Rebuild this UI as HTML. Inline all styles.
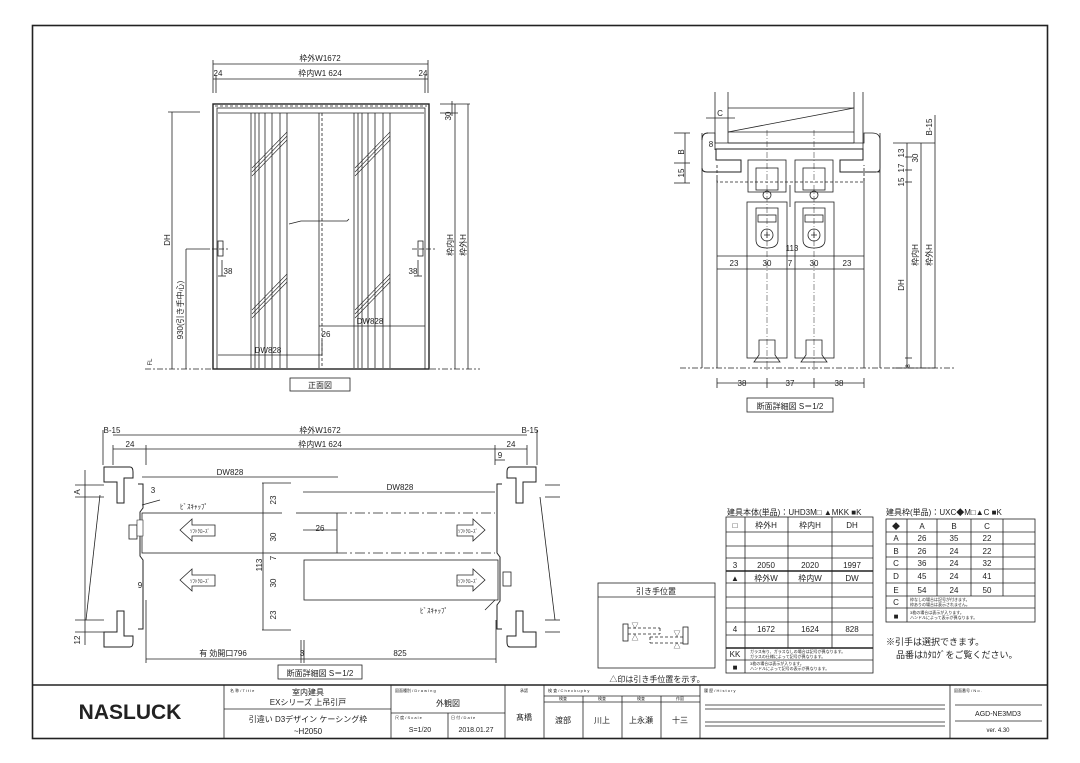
<!DOCTYPE html>
<html><head><meta charset="utf-8"><style>
html,body{margin:0;padding:0;background:#fff;}
svg{display:block;font-family:"Liberation Sans","Noto Sans CJK JP",sans-serif;}
</style></head><body>
<svg width="1080" height="763" viewBox="0 0 1080 763" xmlns="http://www.w3.org/2000/svg">
<rect x="0" y="0" width="1080" height="763" fill="#fff"/>
<g fill="none" stroke="#222" stroke-width="0.8">
<!-- outer border -->
<rect x="32.5" y="25.5" width="1015" height="713" stroke-width="1.6"/>
<line x1="32" y1="685" x2="1047" y2="685" stroke-width="1.6"/>

<!-- ===== Front elevation ===== -->
<line x1="213" y1="64" x2="428" y2="64"/>
<line x1="213" y1="79" x2="428" y2="79"/>
<line x1="213" y1="60" x2="213" y2="93"/><line x1="428" y1="60" x2="428" y2="93"/>
<line x1="216" y1="75" x2="216" y2="93"/><line x1="425" y1="75" x2="425" y2="93"/>
<rect x="213" y="104" width="216" height="265" stroke-width="1.4"/>
<rect x="217" y="108" width="208" height="261"/>
<line x1="218" y1="113" x2="424" y2="113"/>
<line x1="215" y1="106" x2="427" y2="106" stroke-dasharray="3,2"/>
<!-- left strips -->
<g>
<line x1="251" y1="113" x2="251" y2="368"/><line x1="255" y1="113" x2="255" y2="368"/>
<line x1="259" y1="113" x2="259" y2="368"/><line x1="265" y1="113" x2="265" y2="368"/>
<line x1="272" y1="113" x2="272" y2="368"/><line x1="280" y1="113" x2="280" y2="368"/>
<line x1="287" y1="113" x2="287" y2="368"/>
<line x1="354" y1="113" x2="354" y2="368"/><line x1="358" y1="113" x2="358" y2="368"/>
<line x1="362" y1="113" x2="362" y2="368"/><line x1="368" y1="113" x2="368" y2="368"/>
<line x1="375" y1="113" x2="375" y2="368"/><line x1="383" y1="113" x2="383" y2="368"/>
<line x1="390" y1="113" x2="390" y2="368"/>
</g>
<line x1="319" y1="113" x2="319" y2="368"/>
<line x1="322" y1="113" x2="322" y2="368" stroke-dasharray="3,2"/>
<!-- glass hatches -->
<g stroke-width="0.6">
<path d="M252 168 L287 132 M252 172 L287 136 M252 176 L287 140"/>
<path d="M252 310 L287 274 M252 314 L287 278 M252 318 L287 282"/>
<path d="M355 168 L390 132 M355 172 L390 136 M355 176 L390 140"/>
<path d="M355 310 L390 274 M355 314 L390 278 M355 318 L390 282"/>
</g>
<path d="M289 224 L301 221 L347 221 L349 219"/>
<rect x="218" y="241" width="5" height="15"/>
<rect x="418" y="241" width="5" height="15"/>
<line x1="205" y1="249" x2="228" y2="249" stroke-dasharray="5,2"/>
<line x1="412" y1="249" x2="435" y2="249" stroke-dasharray="5,2"/>
<line x1="186" y1="249" x2="205" y2="249"/>
<line x1="172" y1="112" x2="172" y2="369"/><line x1="168" y1="112" x2="200" y2="112"/>
<line x1="186" y1="249" x2="186" y2="369"/>
<line x1="222" y1="260" x2="222" y2="276"/><line x1="418" y1="260" x2="418" y2="276"/>
<line x1="218" y1="276" x2="226" y2="276"/><line x1="414" y1="276" x2="422" y2="276"/>
<line x1="218" y1="355" x2="322" y2="355"/>
<line x1="319" y1="326" x2="425" y2="326"/>
<line x1="322" y1="340" x2="322" y2="355"/>
<line x1="145" y1="369" x2="212" y2="369" stroke-dasharray="6,2,2,2"/>
<line x1="430" y1="369" x2="480" y2="369" stroke-dasharray="6,2,2,2"/>
<line x1="455" y1="104" x2="455" y2="369"/><line x1="468" y1="104" x2="468" y2="369"/>
<line x1="440" y1="104" x2="470" y2="104"/><line x1="440" y1="113" x2="458" y2="113"/>
<line x1="452" y1="101" x2="452" y2="116"/>
<rect x="290" y="378" width="60" height="13"/>

<!-- ===== Vertical section (right) ===== -->
<line x1="715" y1="92" x2="715" y2="150"/><line x1="728" y1="92" x2="728" y2="143"/>
<line x1="854" y1="92" x2="854" y2="143"/><line x1="863" y1="92" x2="863" y2="150"/>
<line x1="728" y1="108" x2="854" y2="108"/>
<line x1="728" y1="132" x2="854" y2="108"/>
<line x1="728" y1="132" x2="854" y2="132"/>
<line x1="728" y1="143" x2="854" y2="143"/>
<path d="M702 133 L702 368 M880 133 L880 368"/>
<path d="M707 133 L715 133 L715 143 L864 143 L864 133 L872 133 Q880 133 880 140 L880 168 Q880 172 876 172 L880 172"/>
<path d="M702 140 Q702 133 708 133 M702 168 Q702 172 707 172 L741 172 L741 160 L716 160 L716 149 L863 149 L863 160 L840 160 L840 172 L876 172" stroke-width="1"/>
<line x1="717" y1="178" x2="717" y2="368"/><line x1="864" y1="178" x2="864" y2="368"/>
<path d="M717 165 L717 182 L864 182 L864 165" stroke-dasharray="3,2"/>
<rect x="748" y="160" width="38" height="32"/>
<rect x="795" y="160" width="38" height="32"/>
<rect x="756" y="168" width="22" height="22"/>
<rect x="803" y="168" width="22" height="22"/>
<circle cx="767" cy="195" r="4"/><circle cx="814" cy="195" r="4"/>
<rect x="747" y="202" width="40" height="156"/>
<rect x="795" y="202" width="39" height="156"/>
<path d="M756 208 L778 208 L778 240 Q778 248 767 248 Q756 248 756 240 Z"/>
<path d="M803 208 L825 208 L825 240 Q825 248 814 248 Q803 248 803 240 Z"/>
<rect x="758" y="215" width="18" height="7"/><rect x="805" y="215" width="18" height="7"/>
<circle cx="767" cy="235" r="6"/><circle cx="814" cy="235" r="6"/>
<path d="M764 235 h6 M767 232 v6 M811 235 h6 M814 232 v6"/>
<path d="M759 340 L775 340 L775 355 L780 362 L754 362 L759 355 Z"/>
<path d="M806 340 L822 340 L822 355 L827 362 L801 362 L806 355 Z"/>
<line x1="767" y1="130" x2="767" y2="370" stroke-dasharray="6,2,1,2" stroke-width="0.5"/>
<line x1="814" y1="130" x2="814" y2="370" stroke-dasharray="6,2,1,2" stroke-width="0.5"/>
<line x1="790" y1="185" x2="790" y2="207"/>
<line x1="717" y1="256" x2="864" y2="256"/><line x1="717" y1="269" x2="864" y2="269"/>
<line x1="680" y1="368" x2="955" y2="368" stroke-dasharray="6,2,2,2"/>
<line x1="717" y1="383" x2="864" y2="383"/>
<line x1="717" y1="378" x2="717" y2="388"/><line x1="767" y1="378" x2="767" y2="388"/>
<line x1="814" y1="378" x2="814" y2="388"/><line x1="864" y1="378" x2="864" y2="388"/>
<line x1="674" y1="133" x2="690" y2="133"/><line x1="674" y1="163" x2="690" y2="163"/><line x1="674" y1="183" x2="690" y2="183"/>
<line x1="685" y1="133" x2="685" y2="183"/>
<line x1="706" y1="118" x2="735" y2="118"/>
<line x1="893" y1="143" x2="935" y2="143"/><line x1="893" y1="368" x2="935" y2="368"/>
<line x1="907" y1="143" x2="907" y2="368"/><line x1="921" y1="143" x2="921" y2="368"/><line x1="935" y1="115" x2="935" y2="368"/>
<line x1="905" y1="157" x2="912" y2="157"/><line x1="905" y1="170" x2="912" y2="170"/><line x1="905" y1="182" x2="912" y2="182"/><line x1="905" y1="358" x2="912" y2="358"/>
<rect x="747" y="398" width="86" height="14"/>

<!-- ===== Plan section (bottom left) ===== -->
<line x1="113" y1="435" x2="527" y2="435"/><line x1="113" y1="449" x2="527" y2="449"/>
<line x1="103" y1="430" x2="103" y2="465"/><line x1="537" y1="430" x2="537" y2="465"/>
<line x1="113" y1="445" x2="113" y2="465"/><line x1="146" y1="445" x2="146" y2="465"/>
<line x1="495" y1="445" x2="495" y2="465"/><line x1="527" y1="445" x2="527" y2="465"/>
<line x1="495" y1="460" x2="505" y2="460"/>
<!-- left frame -->
<path d="M104 467 L130 467 Q133 467 133 472 L133 478 L124 478 L124 503 L117 503 L117 482 L104 482 Z" stroke-width="1"/>
<path d="M104 647 L130 647 Q133 647 133 642 L133 636 L124 636 L124 611 L117 611 L117 632 L104 632 Z" stroke-width="1"/>
<path d="M138 484 L143 484 L143 508 L140 512 L140 556 L143 560 L143 629 L138 629" stroke-width="1"/>
<line x1="85" y1="470" x2="85" y2="645"/><line x1="75" y1="485" x2="104" y2="485"/><line x1="75" y1="497" x2="104" y2="497"/>
<line x1="75" y1="620" x2="104" y2="620"/><line x1="75" y1="632" x2="104" y2="632"/>
<line x1="100" y1="495" x2="86" y2="620"/>
<rect x="129" y="525" width="8" height="14"/>
<!-- right frame -->
<path d="M536 467 L510 467 Q507 467 507 472 L507 478 L516 478 L516 503 L523 503 L523 482 L536 482 Z" stroke-width="1"/>
<path d="M536 647 L510 647 Q507 647 507 642 L507 636 L516 636 L516 611 L523 611 L523 632 L536 632 Z" stroke-width="1"/>
<path d="M502 484 L497 484 L497 553 L500 557 L500 601 L497 605 L497 629 L502 629" stroke-width="1"/>
<line x1="545" y1="485" x2="560" y2="485"/><line x1="545" y1="497" x2="560" y2="497"/>
<line x1="545" y1="620" x2="560" y2="620"/><line x1="545" y1="632" x2="560" y2="632"/>
<line x1="540" y1="497" x2="555" y2="620"/>
<rect x="503" y="572" width="8" height="14"/>
<!-- doors -->
<rect x="142" y="513" width="195" height="40"/>
<rect x="304" y="560" width="194" height="40"/>
<line x1="182" y1="513" x2="480" y2="513" stroke="#fff" stroke-width="2" stroke-dasharray="0,100,14,20"/>
<line x1="337" y1="513" x2="495" y2="513" stroke-dasharray="10,3,2,3"/>
<line x1="337" y1="553" x2="495" y2="553" stroke-dasharray="10,3,2,3"/>
<line x1="142" y1="477" x2="338" y2="477"/>
<line x1="303" y1="492" x2="495" y2="492"/>
<line x1="303" y1="530" x2="337" y2="530"/>
<line x1="263" y1="483" x2="263" y2="630"/>
<line x1="262" y1="483" x2="291" y2="483"/><line x1="262" y1="630" x2="291" y2="630"/>
<line x1="146" y1="659" x2="496" y2="659"/>
<line x1="146" y1="600" x2="146" y2="663"/><line x1="301" y1="640" x2="301" y2="663"/><line x1="304" y1="640" x2="304" y2="663"/><line x1="496" y1="620" x2="496" y2="663"/>
<!-- arrows -->
<path d="M180 530 L192 519 L192 525 L215 525 L215 536 L192 536 L192 541 Z"/>
<path d="M180 580 L192 569 L192 575 L215 575 L215 586 L192 586 L192 591 Z"/>
<path d="M485 530 L473 519 L473 525 L457 525 L457 536 L473 536 L473 541 Z"/>
<path d="M485 580 L473 569 L473 575 L457 575 L457 586 L473 586 L473 591 Z"/>
<line x1="142" y1="505" x2="160" y2="500"/><line x1="495" y1="600" x2="485" y2="610"/>
<rect x="278" y="665" width="84" height="14"/>

<!-- ===== pull position box ===== -->
<rect x="598" y="583" width="117" height="85"/>
<line x1="598" y1="597" x2="715" y2="597"/>
<rect x="623" y="624" width="5" height="17"/><rect x="683" y="627" width="5" height="17"/>
<path d="M628 628 L660 628 M628 634 L660 634 M660 628 L660 634 M650 637 L683 637 M650 643 L683 643 M650 637 L650 643" stroke-dasharray="3,2"/>

<!-- ===== table 1 ===== -->
<rect x="726" y="517" width="147" height="156"/>
<g>
<line x1="745" y1="517" x2="745" y2="648"/><line x1="788" y1="517" x2="788" y2="648"/><line x1="832" y1="517" x2="832" y2="648"/>
<line x1="745" y1="648" x2="745" y2="673"/>
<line x1="726" y1="532" x2="873" y2="532"/><line x1="726" y1="546" x2="873" y2="546"/>
<line x1="726" y1="558" x2="873" y2="558"/><line x1="726" y1="571" x2="873" y2="571" stroke-width="1.4"/>
<line x1="726" y1="583" x2="873" y2="583"/><line x1="726" y1="597" x2="873" y2="597"/>
<line x1="726" y1="608" x2="873" y2="608"/><line x1="726" y1="622" x2="873" y2="622"/>
<line x1="726" y1="635" x2="873" y2="635"/><line x1="726" y1="648" x2="873" y2="648" stroke-width="1.4"/>
<line x1="726" y1="660" x2="873" y2="660"/>
</g>
<!-- table 2 -->
<rect x="886" y="519" width="149" height="103"/>
<line x1="907" y1="519" x2="907" y2="622"/><line x1="937" y1="519" x2="937" y2="596"/>
<line x1="971" y1="519" x2="971" y2="596"/><line x1="1003" y1="519" x2="1003" y2="596"/>
<line x1="886" y1="532" x2="1035" y2="532"/><line x1="886" y1="544" x2="1035" y2="544"/>
<line x1="886" y1="557" x2="1035" y2="557"/><line x1="886" y1="569" x2="1035" y2="569"/>
<line x1="886" y1="583" x2="1035" y2="583"/><line x1="886" y1="596" x2="1035" y2="596"/>
<line x1="886" y1="608" x2="1035" y2="608"/>

<!-- ===== title block ===== -->
<line x1="224" y1="685" x2="224" y2="738"/><line x1="391" y1="685" x2="391" y2="738"/>
<line x1="505" y1="685" x2="505" y2="738"/><line x1="544" y1="685" x2="544" y2="738"/>
<line x1="700" y1="685" x2="700" y2="738"/><line x1="950" y1="685" x2="950" y2="738"/>
<line x1="224" y1="709" x2="391" y2="709"/>
<line x1="391" y1="713" x2="505" y2="713"/><line x1="448" y1="713" x2="448" y2="738"/>
<line x1="544" y1="696" x2="700" y2="696"/><line x1="544" y1="702" x2="700" y2="702"/>
<line x1="583" y1="696" x2="583" y2="738"/><line x1="622" y1="696" x2="622" y2="738"/><line x1="661" y1="696" x2="661" y2="738"/>
<line x1="705" y1="705" x2="945" y2="705"/><line x1="705" y1="709" x2="945" y2="709"/>
<line x1="705" y1="722" x2="945" y2="722"/><line x1="705" y1="726" x2="945" y2="726"/>
<line x1="955" y1="705" x2="1042" y2="705"/><line x1="955" y1="721" x2="1042" y2="721"/>
</g>

<g fill="#fff" stroke="#222" stroke-width="0.6">
<path d="M137 520 h6 v16 h-6 z"/>
</g>
<!-- fills -->
<rect x="729" y="575" width="6" height="5" fill="#000" transform="translate(0,0)" opacity="0"/>

<!-- ===== Text ===== -->
<g font-size="8" fill="#222" text-anchor="middle">
<text x="320" y="61">枠外W1672</text>
<text x="320" y="76">枠内W1 624</text>
<text x="218" y="76">24</text><text x="423" y="76">24</text>
<text x="228" y="274">38</text><text x="413" y="274">38</text>
<text x="326" y="337">26</text>
<text x="268" y="353">DW828</text>
<text x="370" y="324">DW828</text>
<text x="320" y="388">正面図</text>
<text transform="translate(170,240) rotate(-90)">DH</text>
<text transform="translate(183,310) rotate(-90)">930(引き手中心)</text>
<text transform="translate(453,245) rotate(-90)">枠内H</text>
<text transform="translate(466,245) rotate(-90)">枠外H</text>
<text transform="translate(451,116) rotate(-90)">30</text>
<text transform="translate(152,362) rotate(-90)" font-size="6">FL</text>

<text x="720" y="116">C</text>
<text x="711" y="147">8</text>
<text transform="translate(684,152) rotate(-90)">B</text>
<text transform="translate(684,173) rotate(-90)">15</text>
<text x="792" y="251">113</text>
<text x="734" y="266">23</text><text x="767" y="266">30</text><text x="790" y="266">7</text><text x="814" y="266">30</text><text x="847" y="266">23</text>
<text x="742" y="386">38</text><text x="790" y="386">37</text><text x="839" y="386">38</text>
<text x="790" y="409">断面詳細図 S＝1/2</text>
<text transform="translate(932,127) rotate(-90)">B-15</text>
<text transform="translate(904,153) rotate(-90)">13</text>
<text transform="translate(904,168) rotate(-90)">17</text>
<text transform="translate(904,182) rotate(-90)">15</text>
<text transform="translate(918,158) rotate(-90)">30</text>
<text transform="translate(904,285) rotate(-90)">DH</text>
<text transform="translate(918,255) rotate(-90)">枠内H</text>
<text transform="translate(932,255) rotate(-90)">枠外H</text>
<text transform="translate(910,366) rotate(-90)" font-size="6">8</text>

<text x="112" y="433">B-15</text><text x="530" y="433">B-15</text>
<text x="320" y="433">枠外W1672</text>
<text x="320" y="447">枠内W1 624</text>
<text x="130" y="447">24</text><text x="511" y="447">24</text>
<text x="500" y="458">9</text>
<text x="230" y="475">DW828</text>
<text x="400" y="490">DW828</text>
<text x="153" y="493">3</text>
<text x="180" y="509" text-anchor="start" font-size="7">ﾋﾞｽｷｬｯﾌﾟ</text>
<text x="434" y="613" font-size="7">ﾋﾞｽｷｬｯﾌﾟ</text>
<text x="320" y="531">26</text>
<text x="140" y="588">9</text>
<text transform="translate(276,500) rotate(-90)">23</text>
<text transform="translate(276,537) rotate(-90)">30</text>
<text transform="translate(276,558) rotate(-90)">7</text>
<text transform="translate(276,583) rotate(-90)">30</text>
<text transform="translate(276,615) rotate(-90)">23</text>
<text transform="translate(262,565) rotate(-90)">113</text>
<text transform="translate(80,492) rotate(-90)">A</text>
<text transform="translate(80,640) rotate(-90)">12</text>
<text x="223" y="656">有 効開口796</text>
<text x="302" y="656">3</text>
<text x="400" y="656">825</text>
<text x="320" y="676">断面詳細図 S＝1/2</text>
<text x="200" y="533" font-size="5">ｿﾌﾄｸﾛｰｽﾞ</text>
<text x="200" y="583" font-size="5">ｿﾌﾄｸﾛｰｽﾞ</text>
<text x="468" y="533" font-size="5">ｿﾌﾄｸﾛｰｽﾞ</text>
<text x="468" y="583" font-size="5">ｿﾌﾄｸﾛｰｽﾞ</text>

<text x="656" y="594">引き手位置</text>
<text x="657" y="682">△印は引き手位置を示す。</text>
<text x="635" y="628" font-size="7">▽</text><text x="635" y="640" font-size="7">△</text>
<text x="677" y="636" font-size="7">▽</text><text x="677" y="648" font-size="7">△</text>

<text x="762" y="515" text-anchor="start" x-offset="0" transform="translate(-35,0)">建具本体(単品)：UHD3M□ ▲MKK ■K</text>
<text x="735" y="528">□</text><text x="766" y="528">枠外H</text><text x="810" y="528">枠内H</text><text x="852" y="528">DH</text>
<text x="735" y="568">3</text><text x="766" y="568">2050</text><text x="810" y="568">2020</text><text x="852" y="568">1997</text>
<text x="735" y="581">▲</text><text x="766" y="581">枠外W</text><text x="810" y="581">枠内W</text><text x="852" y="581">DW</text>
<text x="735" y="632">4</text><text x="766" y="632">1672</text><text x="810" y="632">1624</text><text x="852" y="632">828</text>
<text x="735" y="657">KK</text><text x="735" y="670">■</text>
<text x="750" y="653" font-size="4" text-anchor="start">ガラス有り、ガラスなしの場合は記号が異なります。</text>
<text x="750" y="658" font-size="4" text-anchor="start">ガラスの仕様によって記号が異なります。</text>
<text x="750" y="665" font-size="4" text-anchor="start">3枚の場合は表示が入ります。</text>
<text x="750" y="670" font-size="4" text-anchor="start">ハンドルによって記号の表示が異なります。</text>

<text x="886" y="515" text-anchor="start">建具枠(単品)：UXC◆M□▲C ■K</text>
<text x="896" y="529">◆</text><text x="922" y="529">A</text><text x="954" y="529">B</text><text x="987" y="529">C</text>
<text x="896" y="541">A</text><text x="922" y="541">26</text><text x="954" y="541">35</text><text x="987" y="541">22</text>
<text x="896" y="554">B</text><text x="922" y="554">26</text><text x="954" y="554">24</text><text x="987" y="554">22</text>
<text x="896" y="566">C</text><text x="922" y="566">36</text><text x="954" y="566">24</text><text x="987" y="566">32</text>
<text x="896" y="579">D</text><text x="922" y="579">45</text><text x="954" y="579">24</text><text x="987" y="579">41</text>
<text x="896" y="593">E</text><text x="922" y="593">54</text><text x="954" y="593">24</text><text x="987" y="593">50</text>
<text x="896" y="605">C</text><text x="896" y="619">■</text>
<text x="910" y="601" font-size="4" text-anchor="start">枠なしの場合は記号が付きます。</text>
<text x="910" y="606" font-size="4" text-anchor="start">枠ありの場合は表示されません。</text>
<text x="910" y="614" font-size="4" text-anchor="start">3枚の場合は表示が入ります。</text>
<text x="910" y="619" font-size="4" text-anchor="start">ハンドルによって表示が異なります。</text>
<text x="886" y="645" text-anchor="start" font-size="9">※引手は選択できます。</text>
<text x="896" y="658" text-anchor="start" font-size="9">品番はｶﾀﾛｸﾞをご覧ください。</text>

<!-- title block text -->
<text x="130" y="719" font-size="21" font-weight="bold" font-family="Liberation Sans, sans-serif">NASLUCK</text>
<text x="230" y="692" font-size="4" text-anchor="start">名 称 / T i t l e</text>
<text x="308" y="695">室内建具</text>
<text x="308" y="705">EXシリーズ 上吊引戸</text>
<text x="308" y="722">引違い D3デザイン ケーシング枠</text>
<text x="308" y="734">~H2050</text>
<text x="395" y="692" font-size="4" text-anchor="start">図面種別 / D r a w i n g</text>
<text x="448" y="706">外観図</text>
<text x="395" y="719" font-size="4" text-anchor="start">尺 度 / S c a l e</text>
<text x="451" y="719" font-size="4" text-anchor="start">日 付 / D a t e</text>
<text x="420" y="732" font-size="7">S=1/20</text>
<text x="476" y="732" font-size="7">2018.01.27</text>
<text x="524" y="692" font-size="4">承認</text>
<text x="524" y="720">髙橋</text>
<text x="548" y="692" font-size="4" text-anchor="start">検 査 / C h e c k  u p  b y</text>
<text x="563" y="700" font-size="4">検査</text><text x="602" y="700" font-size="4">検査</text><text x="641" y="700" font-size="4">検査</text><text x="680" y="700" font-size="4">作図</text>
<text x="563" y="723">渡部</text><text x="602" y="723">川上</text><text x="641" y="723">上永瀬</text><text x="680" y="723">十三</text>
<text x="704" y="692" font-size="4" text-anchor="start">履 歴 / H i s t o r y</text>
<text x="954" y="692" font-size="4" text-anchor="start">図面番号 / N o .</text>
<text x="998" y="716" font-size="7">AGD-NE3MD3</text>
<text x="998" y="732" font-size="6">ver. 4.30</text>
</g>
</svg>
</body></html>
